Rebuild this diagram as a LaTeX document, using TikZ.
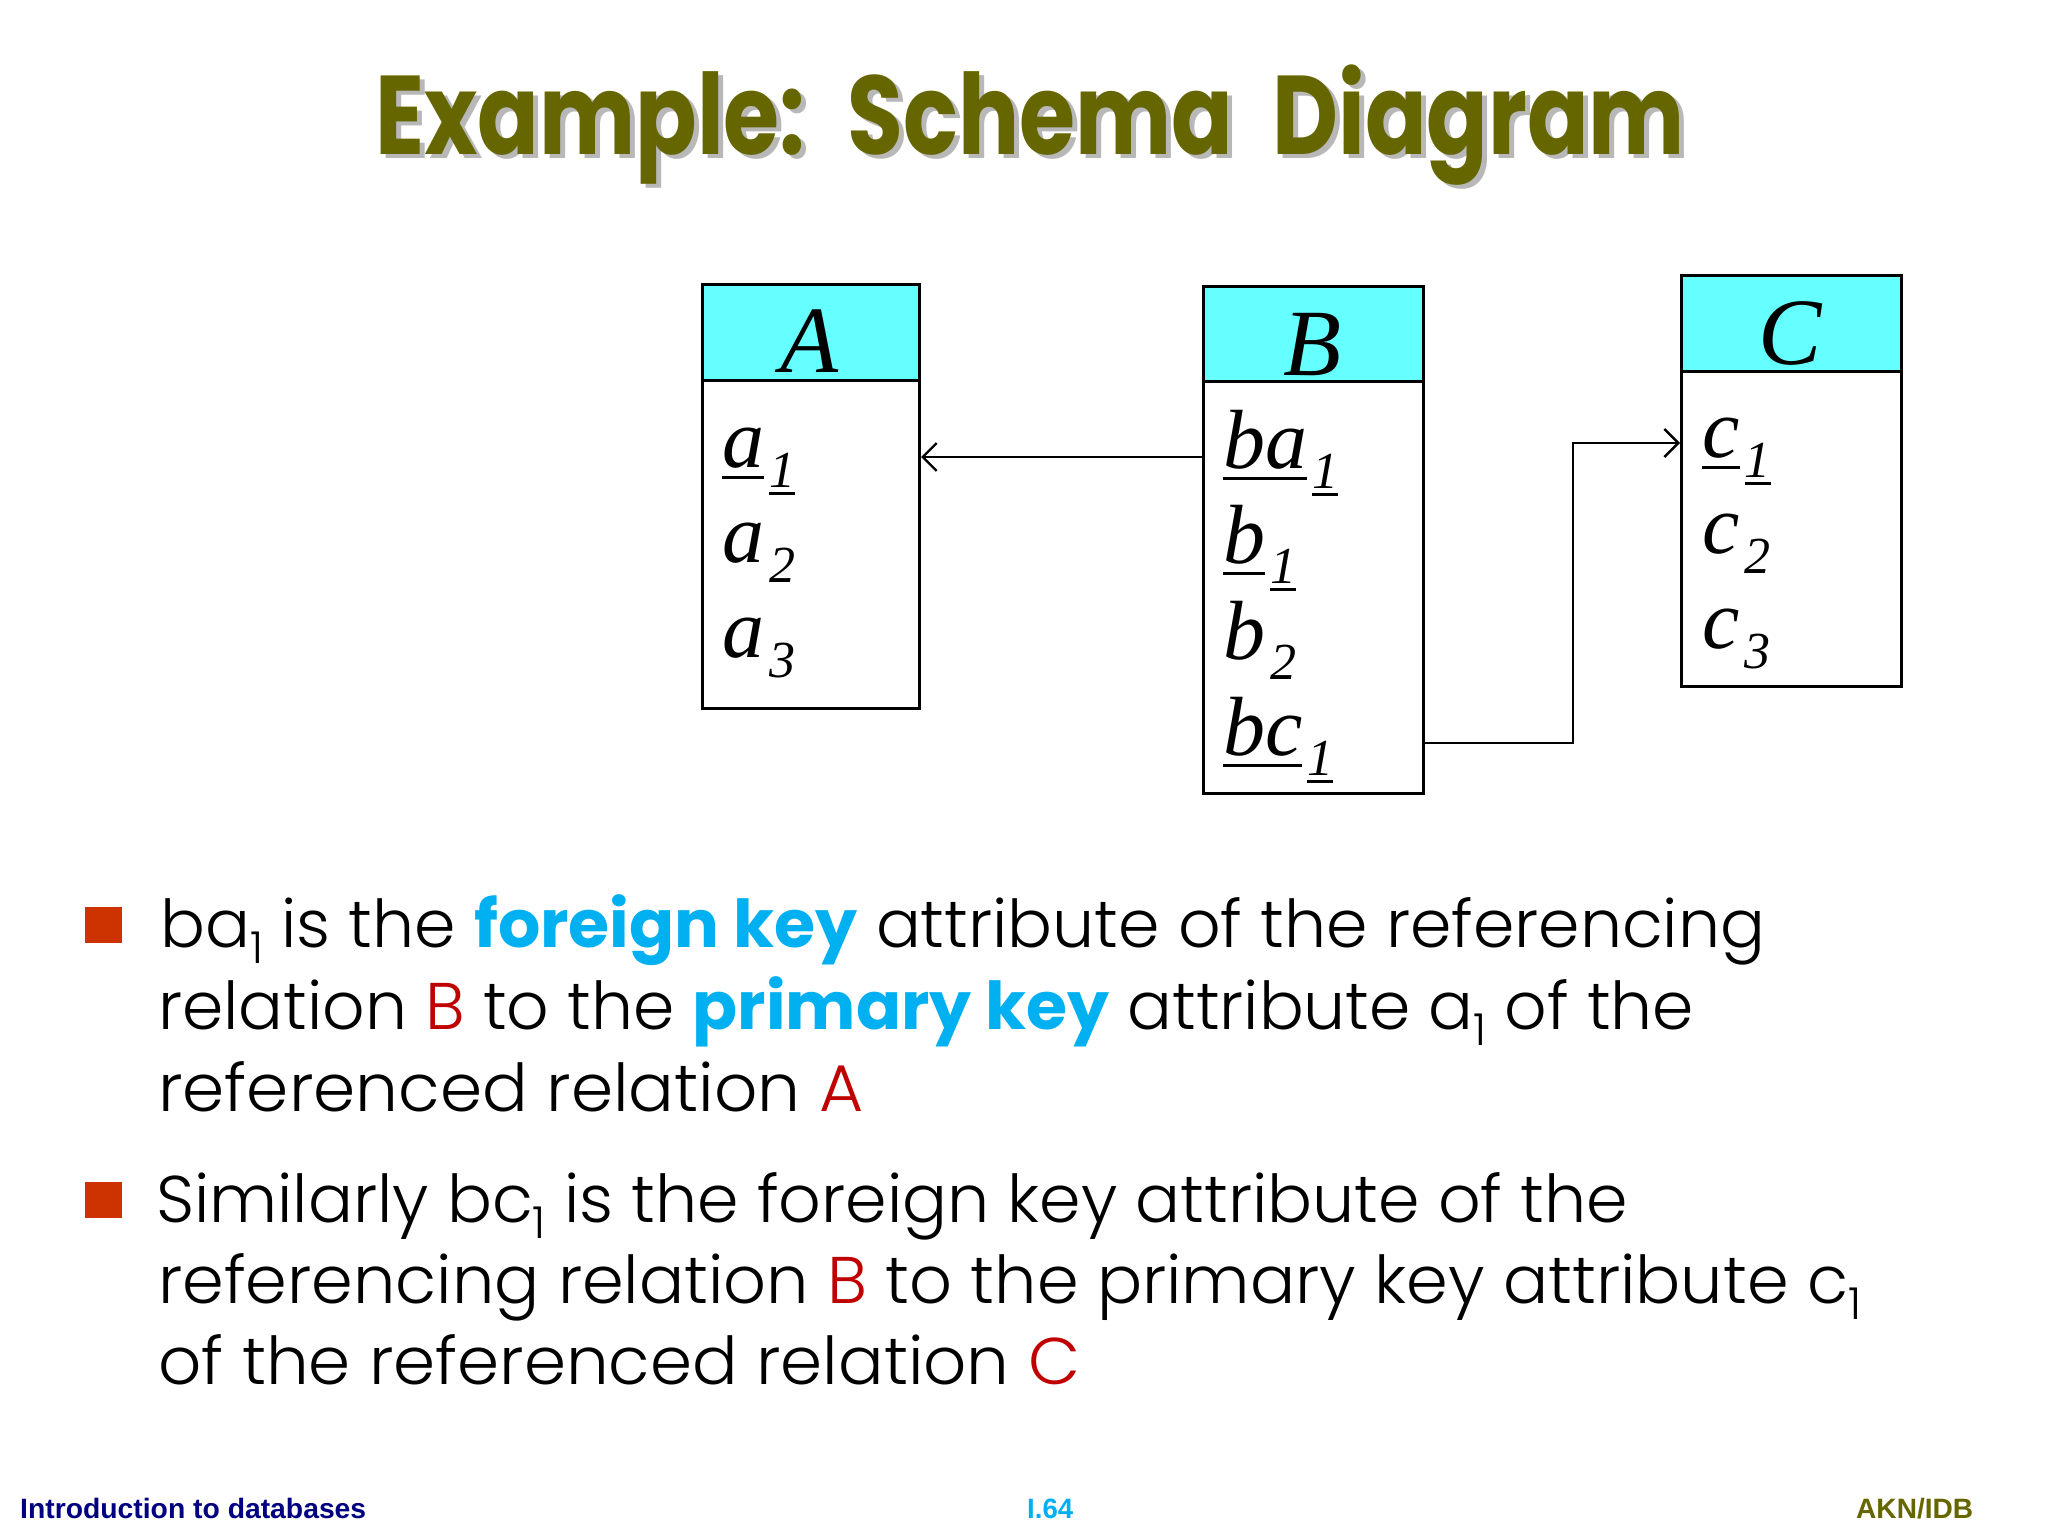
\documentclass[tikz,border=0pt]{standalone}
\usepackage{fontspec}
\usepackage{graphicx}
\usetikzlibrary{arrows.meta}
\setmainfont{Liberation Serif}
\IfFontExistsTF{Poppins Light}{\newfontfamily\bodyfont{Poppins Light}}{\newfontfamily\bodyfont{Poppins}}
\newfontfamily\bodybold{Poppins}
\newfontfamily\footfont{Liberation Sans}
\newfontfamily\titlefont{Poppins}
\definecolor{olivet}{HTML}{666600}
\definecolor{cyanhead}{HTML}{66FFFF}
\definecolor{keyblue}{HTML}{00B0F0}
\definecolor{relred}{HTML}{C00000}
\definecolor{bulletred}{HTML}{CC3300}
\definecolor{navyfoot}{HTML}{000080}
% underline helper: #1 lowering of rule, #2 thickness, #3 text
\newcommand\ulx[3]{\setbox0\hbox{#3}\rlap{\rule[-#1]{\wd0}{#2}}\box0}
\newcommand\subA[2]{\kern5pt\raisebox{-20pt}{\fontsize{52}{52}\selectfont\itshape #1{#2}}}
\newcommand\uattr[2]{{\itshape\ulx{12pt}{3pt}{#1}}\subA{\ulx{8pt}{2.6pt}}{#2}}
\newcommand\nattr[2]{{\itshape #1}\subA{}{#2}}
\newcommand\bsub[1]{\raisebox{-16pt}{\fontsize{44}{44}\selectfont #1}}
\newcommand\keyw[1]{{\bodybold\bfseries\color{keyblue}#1}}
\newcommand\bodyline[2]{\resizebox{#1}{\height}{\bodyfont\fontsize{66}{80}\selectfont #2}}
\newcommand\titletext{\titlefont\bfseries\fontsize{112}{112}\selectfont Example:\hspace{52pt}Schema\hspace{48pt}Diagram}
\tikzset{
  hdr/.style={draw=black, line width=3pt, fill=cyanhead, anchor=north west, inner sep=0pt},
  tbody/.style={draw=black, line width=3pt, fill=white, anchor=north west, inner sep=0pt},
  hdrtext/.style={anchor=base, inner sep=0pt, font=\fontsize{95}{95}\selectfont\itshape},
  attr/.style={anchor=base west, inner sep=0pt, font=\fontsize{84}{84}\selectfont},
  fk/.style={draw=black, line width=2.4pt},
  fkarrow/.style={fk, -{Straight Barb[length=14pt,width=28pt,line width=2.4pt]}},
  txt/.style={anchor=base west, inner sep=0pt},
  bulletsq/.style={fill=bulletred, minimum width=37pt, minimum height=36pt, inner sep=0pt, anchor=north west},
  foot/.style={anchor=base west, inner sep=0pt}
}
\begin{document}
\begin{tikzpicture}[x=1pt,y=-1pt]
\useasboundingbox (0,0) rectangle (2048,1536);
\fill[white] (0,0) rectangle (2048,1536);

% title (with soft shadow)
\node[txt, text=black!55, opacity=0.5] (titleshadow) at (380,159)
  {\resizebox{1310pt}{\height}{\titletext}};
\node[txt, text=olivet] (title) at (375,154)
  {\resizebox{1310pt}{\height}{\titletext}};

% table A
\node[hdr, minimum width=217pt, minimum height=96pt] (Ahead) at (701,283) {};
\node[tbody, minimum width=217pt, minimum height=328pt] (Abody) at (701,379) {};
\node[hdrtext] (Aname) at (809.5,372) {A};
\node[attr] (a1) at (722,467) {\uattr{a}{1}};
\node[attr] (a2) at (722,562) {\nattr{a}{2}};
\node[attr] (a3) at (722,657) {\nattr{a}{3}};

% table B
\node[hdr, minimum width=220pt, minimum height=95pt] (Bhead) at (1202,285) {};
\node[tbody, minimum width=220pt, minimum height=412pt] (Bbody) at (1202,380) {};
\node[hdrtext] (Bname) at (1312,375) {B};
\node[attr] (ba1) at (1223,468) {\uattr{ba}{1}};
\node[attr] (b1) at (1223,563) {\uattr{b}{1}};
\node[attr] (b2) at (1223,659) {\nattr{b}{2}};
\node[attr] (bc1) at (1223,755) {\uattr{bc}{1}};

% table C
\node[hdr, minimum width=220pt, minimum height=96pt] (Chead) at (1680,274) {};
\node[tbody, minimum width=220pt, minimum height=315pt] (Cbody) at (1680,370) {};
\node[hdrtext] (Cname) at (1790,364) {C};
\node[attr] (c1) at (1702,457) {\uattr{c}{1}};
\node[attr] (c2) at (1702,553) {\nattr{c}{2}};
\node[attr] (c3) at (1702,648) {\nattr{c}{3}};

% connectors
\coordinate (fkA) at (0,457);
\coordinate (fkB) at (0,743);
\coordinate (fkC) at (0,443);
\coordinate (bend) at (1573,0);
\draw[fkarrow] (Bbody.west |- fkA) -- (Abody.east |- fkA);
\draw[fkarrow] (Bbody.east |- fkB) -- (bend |- fkB) -- (bend |- fkC) -- (Cbody.west |- fkC);

% bullets
\node[bulletsq] (bul1) at (85,907) {};
\node[bulletsq] (bul2) at (85,1182) {};

\node[txt] (l1) at (160,947) {\bodyline{1605pt}{ba\bsub{1} is the \keyw{foreign key} attribute of the referencing}};
\node[txt] (l2) at (158,1029) {\bodyline{1536pt}{relation {\color{relred}B} to the \keyw{primary key} attribute a\bsub{1} of the}};
\node[txt] (l3) at (158,1111) {\bodyline{705pt}{referenced relation {\color{relred}A}}};

\node[txt] (m1) at (156,1222) {\bodyline{1472pt}{Similarly bc\bsub{1} is the foreign key attribute of the}};
\node[txt] (m2) at (158,1303) {\bodyline{1703pt}{referencing relation {\color{relred}B} to the primary key attribute c\bsub{1}}};
\node[txt] (m3) at (158,1384) {\bodyline{922pt}{of the referenced relation {\color{relred}C}}};

% footer
\node[foot] (f1) at (20,1518) {\resizebox{346pt}{\height}{\footfont\bfseries\fontsize{28}{28}\selectfont\color{navyfoot}Introduction to databases}};
\node[foot] (f2) at (1027,1518) {\resizebox{46pt}{\height}{\footfont\bfseries\fontsize{28}{28}\selectfont\color{keyblue}I.64}};
\node[foot] (f3) at (1856,1518) {\resizebox{117pt}{\height}{\footfont\bfseries\fontsize{28}{28}\selectfont\color{olivet}AKN/IDB}};
\end{tikzpicture}
\end{document}
